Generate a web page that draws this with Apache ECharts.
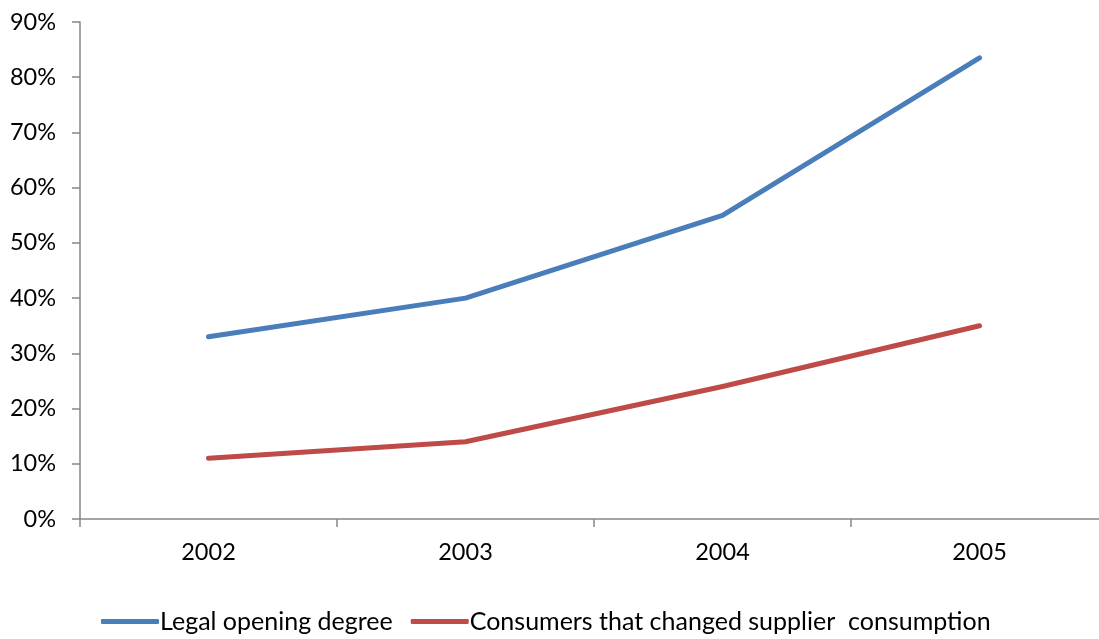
<!DOCTYPE html>
<html>
<head>
<meta charset="utf-8">
<script src="https://cdn.jsdelivr.net/npm/echarts@6/dist/echarts.min.js"></script>
<style>
  html, body { margin: 0; padding: 0; background: #fff; overflow: hidden; }
  /* canvas is a little wider than the window so the plot area runs past the right edge */
  #chart { width: 1110px; height: 639px; }
</style>
</head>
<body>
<div id="chart"></div>
<script>
// Market opening figures, 2002–2005 (percent)
const years = ['2002', '2003', '2004', '2005'];
const legalOpening = [33, 40, 55, 83.5];
const changedSupplier = [11, 14, 24, 35];
const seriesNames = ['Legal opening degree', 'Consumers that changed supplier  consumption'];

const axisGray = '#868686';
const fontFamily = 'Lato, "Open Sans", sans-serif';

const chart = echarts.init(document.getElementById('chart'), null, { renderer: 'canvas' });

chart.setOption({
  animation: false,
  backgroundColor: '#ffffff',
  grid: { left: 80, right: 2, top: 22, bottom: 120, containLabel: false },
  legend: {
    bottom: 0,
    left: 96,
    itemWidth: 58,
    itemHeight: 5,
    itemGap: 18,
    icon: 'roundRect',
    textStyle: { fontFamily, fontSize: 25, color: '#000', padding: [0, 0, 0, -4] },
    data: seriesNames
  },
  xAxis: {
    type: 'category',
    data: years,
    boundaryGap: true,
    axisLine: { lineStyle: { color: axisGray, width: 1.5 } },
    axisTick: { show: true, length: 8, lineStyle: { color: axisGray, width: 1.5 } },
    axisLabel: { margin: 21, fontFamily, fontSize: 23.5, color: '#000' },
    splitLine: { show: false }
  },
  yAxis: {
    type: 'value',
    min: 0,
    max: 90,
    interval: 10,
    axisLine: { show: true, lineStyle: { color: axisGray, width: 1.5 } },
    axisTick: { show: true, length: 8, lineStyle: { color: axisGray, width: 1.5 } },
    axisLabel: { margin: 24, fontFamily, fontSize: 23.5, color: '#000', formatter: v => v + '%' },
    splitLine: { show: false }
  },
  series: [
    {
      name: seriesNames[0],
      type: 'line',
      data: legalOpening,
      showSymbol: false,
      symbol: 'none',
      color: '#4A7EBB',
      lineStyle: { width: 5, color: '#4A7EBB', cap: 'round', join: 'round' }
    },
    {
      name: seriesNames[1],
      type: 'line',
      data: changedSupplier,
      showSymbol: false,
      symbol: 'none',
      color: '#BE4B48',
      lineStyle: { width: 5, color: '#BE4B48', cap: 'round', join: 'round' }
    }
  ]
});
</script>
</body>
</html>
